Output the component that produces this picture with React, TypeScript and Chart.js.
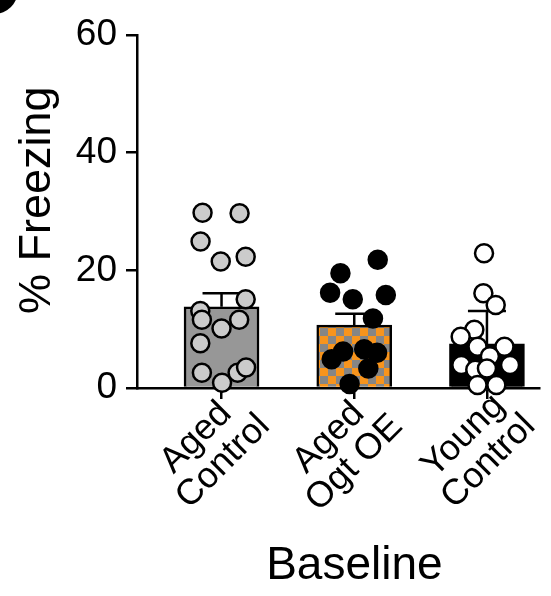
import React, { useEffect, useRef } from 'react';
import { Chart, registerables } from 'chart.js';

Chart.register(...registerables);

const FONT = "'Liberation Sans', Arial, Helvetica, sans-serif";

// Category tick labels (two lines each)
const categoryLabels: string[][] = [
  ['Aged\u2002', 'Control'],
  ['Aged\u2002', 'Ogt OE'],
  ['Young\u2009', 'Control'],
];
const xTitle = '\u2002\u2009Baseline';
const yTitle = '\u2002% Freezing';
const yTickValues = [0, 20, 40, 60];

// Bar heights (mean) and error (upper whisker) per group
const meanValues = [13.8, 10.7, 7.5];
const errorValues = [2.3, 1.9, 5.6];

// Individual animals per group
const agedControlValues = [29.8, 29.7, 24.9, 21.5, 22.3, 15.1, 13.1, 11.6, 10.1, 11.6, 7.6, 2.6, 0.9, 2.6, 3.5];
const agedControlJitter = [-0.143, 0.136, -0.158, -0.006, 0.182, 0.182, -0.16, -0.148, 0, 0.133, -0.16, -0.148, 0.004, 0.121, 0.185];

const agedOgtValues = [21.8, 19.5, 16.2, 15.1, 15.8, 11.8, 6.2, 4.9, 6.6, 6.0, 3.3, 0.7];
const agedOgtJitter = [0.177, -0.104, -0.182, -0.011, 0.238, 0.141, -0.084, -0.17, 0.075, 0.172, 0.106, -0.035];

const youngControlValues = [22.9, 16.1, 14.1, 9.9, 8.7, 7.0, 7.0, 3.9, 5.4, 3.9, 3.1, 3.3, 0.5, 0.5];
const youngControlJitter = [-0.022, -0.027, 0.066, -0.095, -0.198, -0.071, 0.132, -0.193, 0.022, 0.174, -0.088, 0, -0.071, 0.071];

const CAP_HALF = 19;

function makeChecker(): CanvasPattern | string {
  const c = document.createElement('canvas');
  c.width = 16;
  c.height = 16;
  const g = c.getContext('2d');
  if (!g) return '#f7941d';
  g.fillStyle = '#f7941d';
  g.fillRect(0, 0, 16, 16);
  g.fillStyle = '#868686';
  g.fillRect(8, 0, 8, 8);
  g.fillRect(0, 8, 8, 8);
  const p = g.createPattern(c, 'repeat');
  return p || '#f7941d';
}

const errorBarPlugin = {
  id: 'errorBars',
  afterDatasetDraw(chart: any, args: any) {
    if (args.meta.type !== 'bar') return;
    const { ctx } = chart;
    const x = chart.scales.x;
    const y = chart.scales.y;
    ctx.save();
    ctx.strokeStyle = '#000';
    ctx.lineWidth = 2.5;
    meanValues.forEach((m, i) => {
      const px = x.getPixelForValue(i);
      const y0 = y.getPixelForValue(m);
      const y1 = y.getPixelForValue(m + errorValues[i]);
      ctx.beginPath();
      ctx.moveTo(px, y0);
      ctx.lineTo(px, y1);
      ctx.moveTo(px - CAP_HALF, y1);
      ctx.lineTo(px + CAP_HALF, y1);
      ctx.stroke();
    });
    ctx.restore();
  },
};

const cornerPlugin = {
  id: 'corner',
  afterDraw(chart: any) {
    const { ctx } = chart;
    ctx.save();
    ctx.fillStyle = '#000';
    ctx.beginPath();
    ctx.arc(-6, -10, 24, 0, Math.PI * 2);
    ctx.fill();
    ctx.restore();
  },
};

function points(values: number[], jitter: number[], group: number) {
  return values.map((v, i) => ({ x: group + jitter[i], y: v }));
}

export default function App() {
  const ref = useRef<HTMLCanvasElement | null>(null);

  useEffect(() => {
    if (!ref.current) return;
    Chart.defaults.font.family = FONT;
    const axisGrid = {
      display: true,
      drawOnChartArea: false,
      drawTicks: true,
      offset: false,
      tickLength: 11,
      color: '#000',
      lineWidth: 2.5,
    };
    const axisBorder = { display: true, color: '#000', width: 2.5 };
    const scatterCommon = {
      type: 'scatter' as const,
      pointRadius: 9,
      pointHoverRadius: 9,
      borderWidth: 2.5,
      pointBorderColor: '#000',
      borderColor: '#000',
      clip: false as any,
      order: 1,
    };
    const chart = new Chart(ref.current, {
      type: 'bar',
      data: {
        datasets: [
          {
            type: 'bar',
            data: meanValues.map((m, i) => ({ x: i, y: m })) as any,
            backgroundColor: ['#979797', makeChecker() as any, '#000000'],
            borderColor: '#000',
            borderWidth: 2.5,
            barThickness: 75,
            order: 2,
          } as any,
          {
            ...scatterCommon,
            data: points(agedControlValues, agedControlJitter, 0),
            pointBackgroundColor: '#cbcbcb',
            backgroundColor: '#cbcbcb',
          } as any,
          {
            ...scatterCommon,
            data: points(agedOgtValues, agedOgtJitter, 1),
            pointBackgroundColor: '#000',
            backgroundColor: '#000',
          } as any,
          {
            ...scatterCommon,
            data: points(youngControlValues, youngControlJitter, 2),
            pointBackgroundColor: '#fff',
            backgroundColor: '#fff',
          } as any,
        ],
      },
      options: {
        animation: false,
        responsive: false,
        events: [],
        layout: { padding: { top: 35, left: 0, right: 0, bottom: 0 } },
        plugins: { legend: { display: false }, tooltip: { enabled: false } },
        scales: {
          x: {
            type: 'linear',
            offset: false,
            min: -0.637,
            max: 2.396,
            afterBuildTicks: (scale: any) => {
              scale.ticks = categoryLabels.map((_, i) => ({ value: i }));
            },
            afterFit: (scale: any) => {
              scale.height = 208;
            },
            border: axisBorder,
            grid: axisGrid,
            ticks: {
              autoSkip: false,
              minRotation: 45,
              maxRotation: 45,
              padding: -16.5,
              labelOffset: 17.2,
              color: '#000',
              font: { family: FONT, size: 36, lineHeight: 1.0 },
              callback: (v: any) => categoryLabels[Math.round(Number(v))] ?? '',
            },
            title: {
              display: true,
              text: xTitle,
              color: '#000',
              font: { family: FONT, size: 46 },
              padding: { top: 0, bottom: 2 },
            },
          } as any,
          y: {
            min: 0,
            max: 60,
            afterBuildTicks: (scale: any) => {
              scale.ticks = yTickValues.map((v) => ({ value: v }));
            },
            afterFit: (scale: any) => {
              scale.width = 137;
            },
            border: axisBorder,
            grid: axisGrid,
            ticks: {
              padding: 9,
              color: '#000',
              font: { family: FONT, size: 37 },
            },
            title: {
              display: true,
              text: yTitle,
              color: '#000',
              font: { family: FONT, size: 45 },
              padding: { top: 11, bottom: 0 },
            },
          } as any,
        },
      },
      plugins: [errorBarPlugin, cornerPlugin],
    });
    return () => chart.destroy();
  }, []);

  return (
    <div style={{ position: 'absolute', left: 0, top: 0, width: 551, height: 596, background: '#fff' }}>
      <canvas ref={ref} width={551} height={596} style={{ display: 'block' }} />
    </div>
  );
}
